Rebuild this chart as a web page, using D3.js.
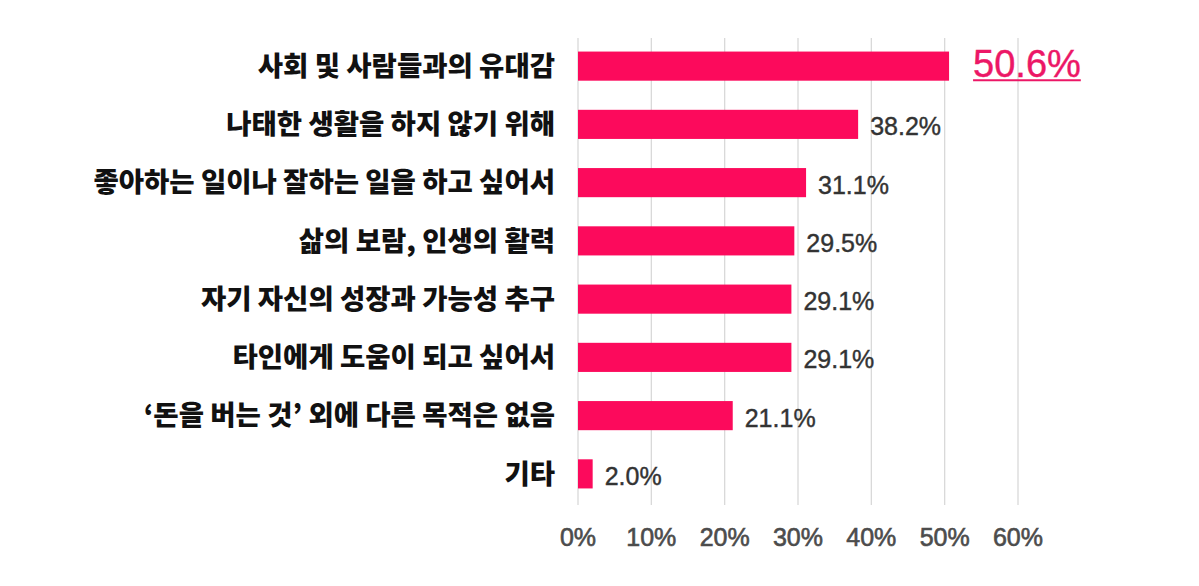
<!DOCTYPE html>
<html>
<head>
<meta charset="utf-8">
<script src="https://cdn.jsdelivr.net/npm/d3@7"></script>
<style>
  body { margin: 0; background: #fff; }
  svg { display: block; }
  .cat-label { font-family: "Noto Sans CJK KR", sans-serif; font-weight: 900; font-size: 27.5px; fill: #111; }
  .val-label { font-family: "Liberation Sans", Arial, sans-serif; font-size: 25px; fill: #333; stroke: #333; stroke-width: 0.4px; }
  .tick-label { font-family: "Liberation Sans", Arial, sans-serif; font-size: 25px; fill: #4c4c4c; stroke: #4c4c4c; stroke-width: 0.6px; }
</style>
</head>
<body>
<div id="chart"></div>
<script>
// categories and values (percent)
const categories = [
  '사회 및 사람들과의 유대감',
  '나태한 생활을 하지 않기 위해',
  '좋아하는 일이나 잘하는 일을 하고 싶어서',
  '삶의 보람, 인생의 활력',
  '자기 자신의 성장과 가능성 추구',
  '타인에게 도움이 되고 싶어서',
  '‘돈을 버는 것’ 외에 다른 목적은 없음',
  '기타'
];
const values = [50.6, 38.2, 31.1, 29.5, 29.1, 29.1, 21.1, 2.0];
const tickValues = [0, 10, 20, 30, 40, 50, 60];

const width = 1199, height = 586;
const barColor = '#FC0A5C';
const accent = '#EC1766';

const svg = d3.select('#chart').append('svg')
    .attr('width', width)
    .attr('height', height);

const x = d3.scaleLinear().domain([0, 60]).range([578, 1018]);
const y = d3.scaleBand().domain(categories).range([37, 503]).paddingInner(0.5).paddingOuter(0.25);

// gridlines
svg.append('g').selectAll('line')
    .data(tickValues)
    .enter()
    .append('line')
    .attr('x1', d => x(d))
    .attr('x2', d => x(d))
    .attr('y1', 38)
    .attr('y2', 505)
    .attr('stroke', '#d9d9d9')
    .attr('stroke-width', 1.3);

// tick labels
svg.append('g').selectAll('text')
    .data(tickValues)
    .enter()
    .append('text')
    .attr('class', 'tick-label')
    .attr('x', d => x(d))
    .attr('y', 546)
    .attr('text-anchor', 'middle')
    .text(d => d + '%');

// bars
svg.append('g').selectAll('rect')
    .data(values)
    .enter()
    .append('rect')
    .attr('x', x(0))
    .attr('y', (d, i) => y(categories[i]))
    .attr('width', d => x(d) - x(0))
    .attr('height', y.bandwidth())
    .attr('fill', barColor);

// category labels
svg.append('g').selectAll('text')
    .data(categories)
    .enter()
    .append('text')
    .attr('class', 'cat-label')
    .attr('x', 555)
    .attr('y', d => y(d) + y.bandwidth() / 2)
    .attr('dy', '0.35em')
    .attr('text-anchor', 'end')
    .text(d => d);

// value labels
values.forEach((v, i) => {
    const cy = y(categories[i]) + y.bandwidth() / 2;
    if (i === 0) {
        const t = svg.append('text')
            .attr('x', x(v) + 24)
            .attr('y', cy + 11)
            .attr('font-family', '"Liberation Sans", Arial, sans-serif')
            .attr('font-size', 38)
            .attr('fill', accent)
            .attr('stroke', accent)
            .attr('stroke-width', 0.4)
            .text(v.toFixed(1) + '%');
        const bb = t.node().getBBox();
        svg.append('line')
            .attr('x1', bb.x)
            .attr('x2', bb.x + bb.width)
            .attr('y1', cy + 14)
            .attr('y2', cy + 14)
            .attr('stroke', accent)
            .attr('stroke-width', 2);
    } else {
        svg.append('text')
            .attr('class', 'val-label')
            .attr('x', x(v) + 12)
            .attr('y', cy + 11)
            .text(v.toFixed(1) + '%');
    }
});
</script>
</body>
</html>
